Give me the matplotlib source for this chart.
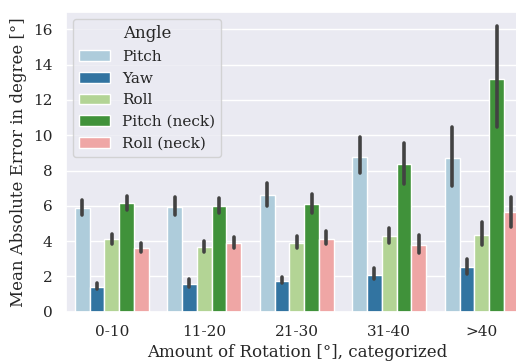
import numpy as np
import matplotlib
matplotlib.use("Agg")
import matplotlib.pyplot as plt
import seaborn as sns

sns.set_theme(style="darkgrid", context="notebook")
plt.rcParams['font.family'] = ['DejaVu Serif']

categorias = ['0-10', '11-20', '21-30', '31-40', '>40']
angulos = ['Pitch', 'Yaw', 'Roll', 'Pitch (neck)', 'Roll (neck)']

# media y limites del intervalo
pitch = [5.86, 5.95, 6.61, 8.78, 8.73]
pitch_lo = [5.46, 5.46, 5.99, 7.84, 7.14]
pitch_hi = [6.33, 6.48, 7.27, 9.92, 10.48]

yaw = [1.42, 1.57, 1.75, 2.08, 2.52]
yaw_lo = [1.27, 1.42, 1.61, 1.84, 2.14]
yaw_hi = [1.61, 1.84, 1.98, 2.49, 3.00]

roll = [4.10, 3.68, 3.91, 4.29, 4.36]
roll_lo = [3.82, 3.40, 3.59, 3.87, 3.78]
roll_hi = [4.40, 4.02, 4.29, 4.76, 5.10]

pitch_neck = [6.14, 5.99, 6.08, 8.35, 13.18]
pitch_neck_lo = [5.76, 5.57, 5.57, 7.22, 10.45]
pitch_neck_hi = [6.57, 6.46, 6.67, 9.58, 16.20]

roll_neck = [3.59, 3.91, 4.14, 3.78, 5.63]
roll_neck_lo = [3.36, 3.63, 3.84, 3.31, 4.78]
roll_neck_hi = [3.87, 4.25, 4.56, 4.35, 6.48]

series = [
    (pitch, pitch_lo, pitch_hi),
    (yaw, yaw_lo, yaw_hi),
    (roll, roll_lo, roll_hi),
    (pitch_neck, pitch_neck_lo, pitch_neck_hi),
    (roll_neck, roll_neck_lo, roll_neck_hi),
]

colores = [sns.desaturate(c, 0.75) for c in sns.color_palette("Paired", 5)]

fig = plt.figure(figsize=(5.16, 3.61), dpi=100)
ax = fig.add_axes([65.5 / 516, 1 - 311.7 / 361, (528 - 65.5) / 516, 300 / 361])

x = np.arange(len(categorias))
ancho = 0.8 / len(angulos)
for i, (nombre, (media, lo, hi)) in enumerate(zip(angulos, series)):
    pos = x - 0.4 + ancho * (i + 0.5)
    ax.bar(pos, media, width=ancho, color=colores[i], label=nombre,
           edgecolor='white', linewidth=1)
    ax.vlines(pos, lo, hi, color='#424242', linewidth=2.6, capstyle='round', zorder=3)

ax.set_xticks(x)
ax.set_xticklabels(categorias)
ax.set_xlim(-0.5, len(categorias) - 0.5)
ax.set_ylim(0, 17)
ax.set_yticks(np.arange(0, 17, 2))
ax.xaxis.grid(False)
ax.set_xlabel('Amount of Rotation [°], categorized')
ax.set_ylabel('Mean Absolute Error in degree [°]')
ax.legend(title='Angle', loc='upper left')

fig.savefig('out.png', dpi=100)
